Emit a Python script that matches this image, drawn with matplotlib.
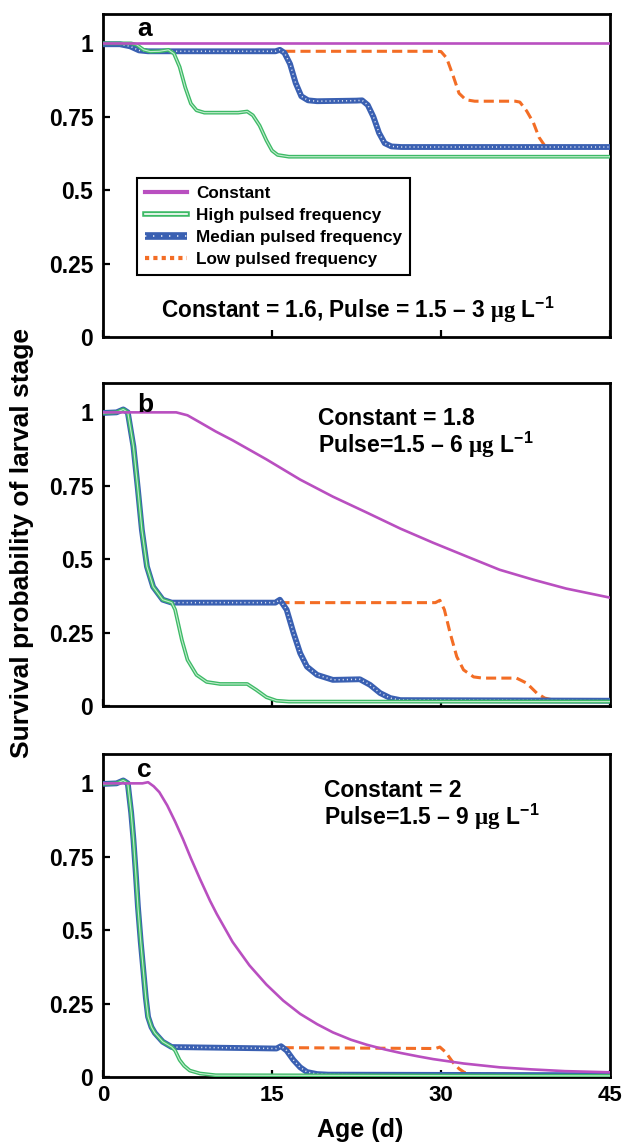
import matplotlib
matplotlib.use("Agg")
import matplotlib.pyplot as plt
from matplotlib.lines import Line2D
from matplotlib.legend_handler import HandlerTuple

plt.rcParams['font.family'] = ['Liberation Sans', 'DejaVu Sans']
plt.rcParams['font.weight'] = 'bold'
plt.rcParams['mathtext.fontset'] = 'custom'
plt.rcParams['mathtext.rm'] = 'Liberation Serif:bold'
plt.rcParams['mathtext.bf'] = 'Liberation Sans:bold'

# ---------------- data ----------------
series_names = ["Constant", "High pulsed frequency", "Median pulsed frequency", "Low pulsed frequency"]
panel_labels = ["a", "b", "c"]
x_ticks = [0, 15, 30, 45]
y_ticks = [0, 0.25, 0.5, 0.75, 1]
y_ticklabels = ["0", "0.25", "0.5", "0.75", "1"]

# Panel a
a_const_age = [0, 45]
a_const_val = [1.0, 1.0]
a_high_age = [0, 2.5, 3.0, 3.6, 4.2, 5.0, 5.8, 6.3, 6.8, 7.3, 7.8, 8.3, 9.0, 12.0, 12.8, 13.3, 13.9, 14.5, 15.0, 15.5, 16.5, 45]
a_high_val = [1.0, 1.0, 0.995, 0.978, 0.972, 0.973, 0.978, 0.965, 0.92, 0.85, 0.795, 0.772, 0.764, 0.764, 0.768, 0.755, 0.72, 0.67, 0.635, 0.62, 0.614, 0.614]
a_med_age = [0, 1.5, 2.4, 3.2, 4.0, 15.3, 15.7, 16.1, 16.6, 17.1, 17.6, 18.2, 19.0, 22.5, 23.0, 23.5, 24.0, 24.5, 25.0, 25.6, 26.5, 45]
a_med_val = [0.997, 0.997, 0.99, 0.976, 0.973, 0.973, 0.978, 0.968, 0.93, 0.865, 0.82, 0.806, 0.803, 0.805, 0.806, 0.79, 0.75, 0.695, 0.66, 0.649, 0.647, 0.647]
a_low_age = [0, 1.5, 2.4, 3.2, 4.0, 29.6, 30.0, 30.5, 31.1, 31.6, 32.2, 33.0, 36.6, 37.0, 37.6, 38.2, 38.7, 39.2, 40.0, 45]
a_low_val = [0.997, 0.997, 0.99, 0.976, 0.973, 0.973, 0.972, 0.95, 0.887, 0.83, 0.808, 0.803, 0.803, 0.80, 0.77, 0.73, 0.68, 0.652, 0.647, 0.647]

# Panel b
b_const_age = [0, 6.5, 7.5, 8.6, 10.0, 11.5, 14.5, 17.5, 20.4, 23.4, 26.4, 29.3, 32.3, 35.2, 38.2, 41.1, 45]
b_const_val = [1.0, 1.0, 0.99, 0.966, 0.935, 0.905, 0.84, 0.771, 0.713, 0.659, 0.604, 0.556, 0.509, 0.464, 0.43, 0.40, 0.369]
b_high_age = [0, 1.2, 1.8, 2.2, 2.7, 3.1, 3.45, 3.9, 4.45, 5.3, 6.1, 6.4, 7.0, 7.5, 8.3, 9.2, 10.4, 12.8, 13.6, 14.5, 15.4, 16.5, 45]
b_high_val = [0.998, 1.0, 1.01, 1.0, 0.884, 0.737, 0.60, 0.475, 0.406, 0.362, 0.352, 0.328, 0.225, 0.157, 0.106, 0.082, 0.075, 0.075, 0.055, 0.03, 0.018, 0.015, 0.015]
b_med_age = [0, 1.2, 1.8, 2.2, 2.7, 3.1, 3.45, 3.9, 4.45, 5.3, 6.1, 15.3, 15.7, 16.3, 16.9, 17.5, 18.1, 19.0, 20.4, 22.8, 23.7, 24.6, 25.5, 26.4, 45]
b_med_val = [0.998, 1.0, 1.01, 1.0, 0.884, 0.737, 0.60, 0.475, 0.406, 0.362, 0.352, 0.352, 0.362, 0.328, 0.25, 0.18, 0.134, 0.106, 0.089, 0.091, 0.072, 0.044, 0.027, 0.02, 0.018]
b_low_age = [0, 1.2, 1.8, 2.2, 2.7, 3.1, 3.45, 3.9, 4.45, 5.3, 6.1, 29.5, 29.9, 30.3, 30.8, 31.4, 32.0, 32.9, 33.7, 36.7, 37.6, 38.5, 39.2, 40.0, 45]
b_low_val = [0.998, 1.0, 1.01, 1.0, 0.884, 0.737, 0.60, 0.475, 0.406, 0.362, 0.352, 0.352, 0.36, 0.328, 0.25, 0.168, 0.123, 0.099, 0.095, 0.095, 0.078, 0.044, 0.027, 0.02, 0.018]

# Panel c
c_const_age = [0, 3.5, 4.0, 4.5, 5.0, 5.7, 6.4, 7.1, 7.8, 8.6, 9.5, 10.1, 11.5, 13.0, 14.5, 16.0, 17.5, 19.0, 20.4, 22.0, 23.4, 25.0, 26.4, 28.0, 29.3, 32.0, 35.2, 38.0, 41.0, 45]
c_const_val = [1.0, 1.0, 1.004, 0.99, 0.97, 0.925, 0.87, 0.81, 0.745, 0.675, 0.60, 0.555, 0.46, 0.38, 0.315, 0.26, 0.215, 0.18, 0.152, 0.127, 0.11, 0.094, 0.082, 0.07, 0.061, 0.046, 0.033, 0.026, 0.02, 0.016]
c_high_age = [0, 1.2, 1.8, 2.2, 2.5, 2.7, 2.9, 3.1, 3.35, 3.6, 3.8, 4.0, 4.3, 4.6, 5.3, 6.1, 6.4, 6.8, 7.2, 7.7, 8.6, 10.0, 45]
c_high_val = [0.998, 1.0, 1.01, 1.0, 0.90, 0.81, 0.70, 0.58, 0.46, 0.355, 0.27, 0.205, 0.17, 0.15, 0.12, 0.102, 0.09, 0.058, 0.038, 0.022, 0.012, 0.006, 0.004]
c_med_age = [0, 1.2, 1.8, 2.2, 2.5, 2.7, 2.9, 3.1, 3.35, 3.6, 3.8, 4.0, 4.3, 4.6, 5.3, 6.1, 15.4, 15.8, 16.3, 16.9, 17.5, 18.1, 19.0, 20.0, 45]
c_med_val = [0.998, 1.0, 1.01, 1.0, 0.90, 0.81, 0.70, 0.58, 0.46, 0.355, 0.27, 0.205, 0.17, 0.15, 0.12, 0.102, 0.097, 0.105, 0.09, 0.058, 0.033, 0.017, 0.01, 0.008, 0.006]
c_low_age = [0, 1.2, 1.8, 2.2, 2.5, 2.7, 2.9, 3.1, 3.35, 3.6, 3.8, 4.0, 4.3, 4.6, 5.3, 6.1, 29.5, 29.9, 30.4, 31.1, 31.6, 32.1, 33.0, 45]
c_low_val = [0.998, 1.0, 1.01, 1.0, 0.90, 0.81, 0.70, 0.58, 0.46, 0.355, 0.27, 0.205, 0.17, 0.15, 0.12, 0.102, 0.097, 0.102, 0.085, 0.048, 0.028, 0.015, 0.01, 0.006]

panel_texts = [
    ["Constant = 1.6, Pulse = 1.5 \u2013 3 $\\mathrm{\\mu g}$ L$^{\\mathbf{-1}}$"],
    ["Constant = 1.8", "Pulse=1.5 \u2013 6 $\\mathrm{\\mu g}$ L$^{\\mathbf{-1}}$"],
    ["Constant = 2", "Pulse=1.5 \u2013 9 $\\mathrm{\\mu g}$ L$^{\\mathbf{-1}}$"],
]

panels = [
    (a_const_age, a_const_val, a_high_age, a_high_val, a_med_age, a_med_val, a_low_age, a_low_val),
    (b_const_age, b_const_val, b_high_age, b_high_val, b_med_age, b_med_val, b_low_age, b_low_val),
    (c_const_age, c_const_val, c_high_age, c_high_val, c_med_age, c_med_val, c_low_age, c_low_val),
]

# ---------------- styles ----------------
MAGENTA = '#b94fc0'
GREEN = '#3dba66'
GREEN_IN = '#c2ecce'
BLUE = '#3a60b2'
ORANGE = '#f36d25'

W, H = 630, 1144
fig = plt.figure(figsize=(W / 100, H / 100), dpi=100)

left_px, right_px = 103, 610
boxes = [(14, 337), (383, 706), (754, 1077)]

def fx(px):
    return px / W

def fy(py):
    return 1 - py / H

axes = []
for i, (top, bot) in enumerate(boxes):
    ax = fig.add_axes([fx(left_px), fy(bot), fx(right_px - left_px), (bot - top) / H])
    axes.append(ax)
    ca, cv, ha, hv, ma, mv, la, lv = panels[i]
    ax.plot(la, lv, color=ORANGE, lw=2.2, linestyle=(0, (3.3, 1.7)), zorder=2)
    ax.plot(ma, mv, color=BLUE, lw=4.2, zorder=3, solid_capstyle='butt')
    ax.plot(ma, mv, color='white', lw=1.1, linestyle=(0, (0.7, 2.0)), alpha=0.85, zorder=3.1)
    ax.plot(ha, hv, color=GREEN, lw=2.7, zorder=4)
    ax.plot(ha, hv, color=GREEN_IN, lw=0.8, zorder=4.1)
    ax.plot(ca, cv, color=MAGENTA, lw=1.9, zorder=5)

    ax.set_xlim(0, 45)
    ax.set_ylim(0, 1.1)
    ax.set_xticks(x_ticks)
    ax.set_yticks(y_ticks)
    ax.set_yticklabels(y_ticklabels)
    ax.tick_params(direction='in', length=5, width=1.6, labelsize=16.5, pad=7)
    ax.tick_params(axis='x', pad=6, labelsize=16)
    if i < 2:
        ax.tick_params(axis='x', labelbottom=False)
    for sp in ax.spines.values():
        sp.set_linewidth(2.0)
    for lab in ax.get_xticklabels() + ax.get_yticklabels():
        lab.set_fontweight('bold')

# panel labels
label_baselines = [36, 412, 777]
for lab, yb in zip(panel_labels, label_baselines):
    fig.text(fx(137), fy(yb), lab, fontsize=19, fontweight='bold', va='baseline', ha='left')

# annotations
fig.text(fx(358), fy(318), panel_texts[0][0], fontsize=16.3, fontweight='bold', ha='center', va='baseline')
fig.text(fx(318), fy(425), panel_texts[1][0], fontsize=16.5, fontweight='bold', ha='left', va='baseline')
fig.text(fx(318), fy(453), panel_texts[1][1], fontsize=16.5, fontweight='bold', ha='left', va='baseline')
fig.text(fx(324), fy(797), panel_texts[2][0], fontsize=16.5, fontweight='bold', ha='left', va='baseline')
fig.text(fx(324), fy(825), panel_texts[2][1], fontsize=16.5, fontweight='bold', ha='left', va='baseline')

# legend
h_const = Line2D([], [], color=MAGENTA, lw=3.0)
h_high = (Line2D([], [], color=GREEN, lw=4.0), Line2D([], [], color='white', lw=1.2))
h_med = (Line2D([], [], color=BLUE, lw=5.5, solid_capstyle='butt'),
         Line2D([], [], color='white', lw=1.2, linestyle=(0, (0.8, 4.0)), alpha=0.85))
h_low = Line2D([], [], color=ORANGE, lw=3.0, linestyle=(0, (1, 1)))
leg = axes[0].legend([h_const, h_high, h_med, h_low], series_names,
                     handler_map={tuple: HandlerTuple(ndivide=1)},
                     loc='upper left', bbox_to_anchor=(fx(137), fy(178)),
                     bbox_transform=fig.transFigure, borderaxespad=0,
                     prop={'size': 12.3, 'weight': 'bold'}, frameon=True, fancybox=False,
                     edgecolor='black', framealpha=1, handlelength=2.5, handletextpad=0.5,
                     labelspacing=0.42, borderpad=0.45)
leg.get_frame().set_linewidth(1.5)
leg.set_zorder(10)

# axis titles
fig.text(fx(22), fy(543), "Survival probability of larval stage", rotation=90,
         fontsize=19, fontweight='bold', ha='center', va='center')
fig.text(fx(360), fy(1137), "Age (d)", fontsize=18, fontweight='bold', ha='center', va='baseline')

fig.savefig("out.png", dpi=100)
